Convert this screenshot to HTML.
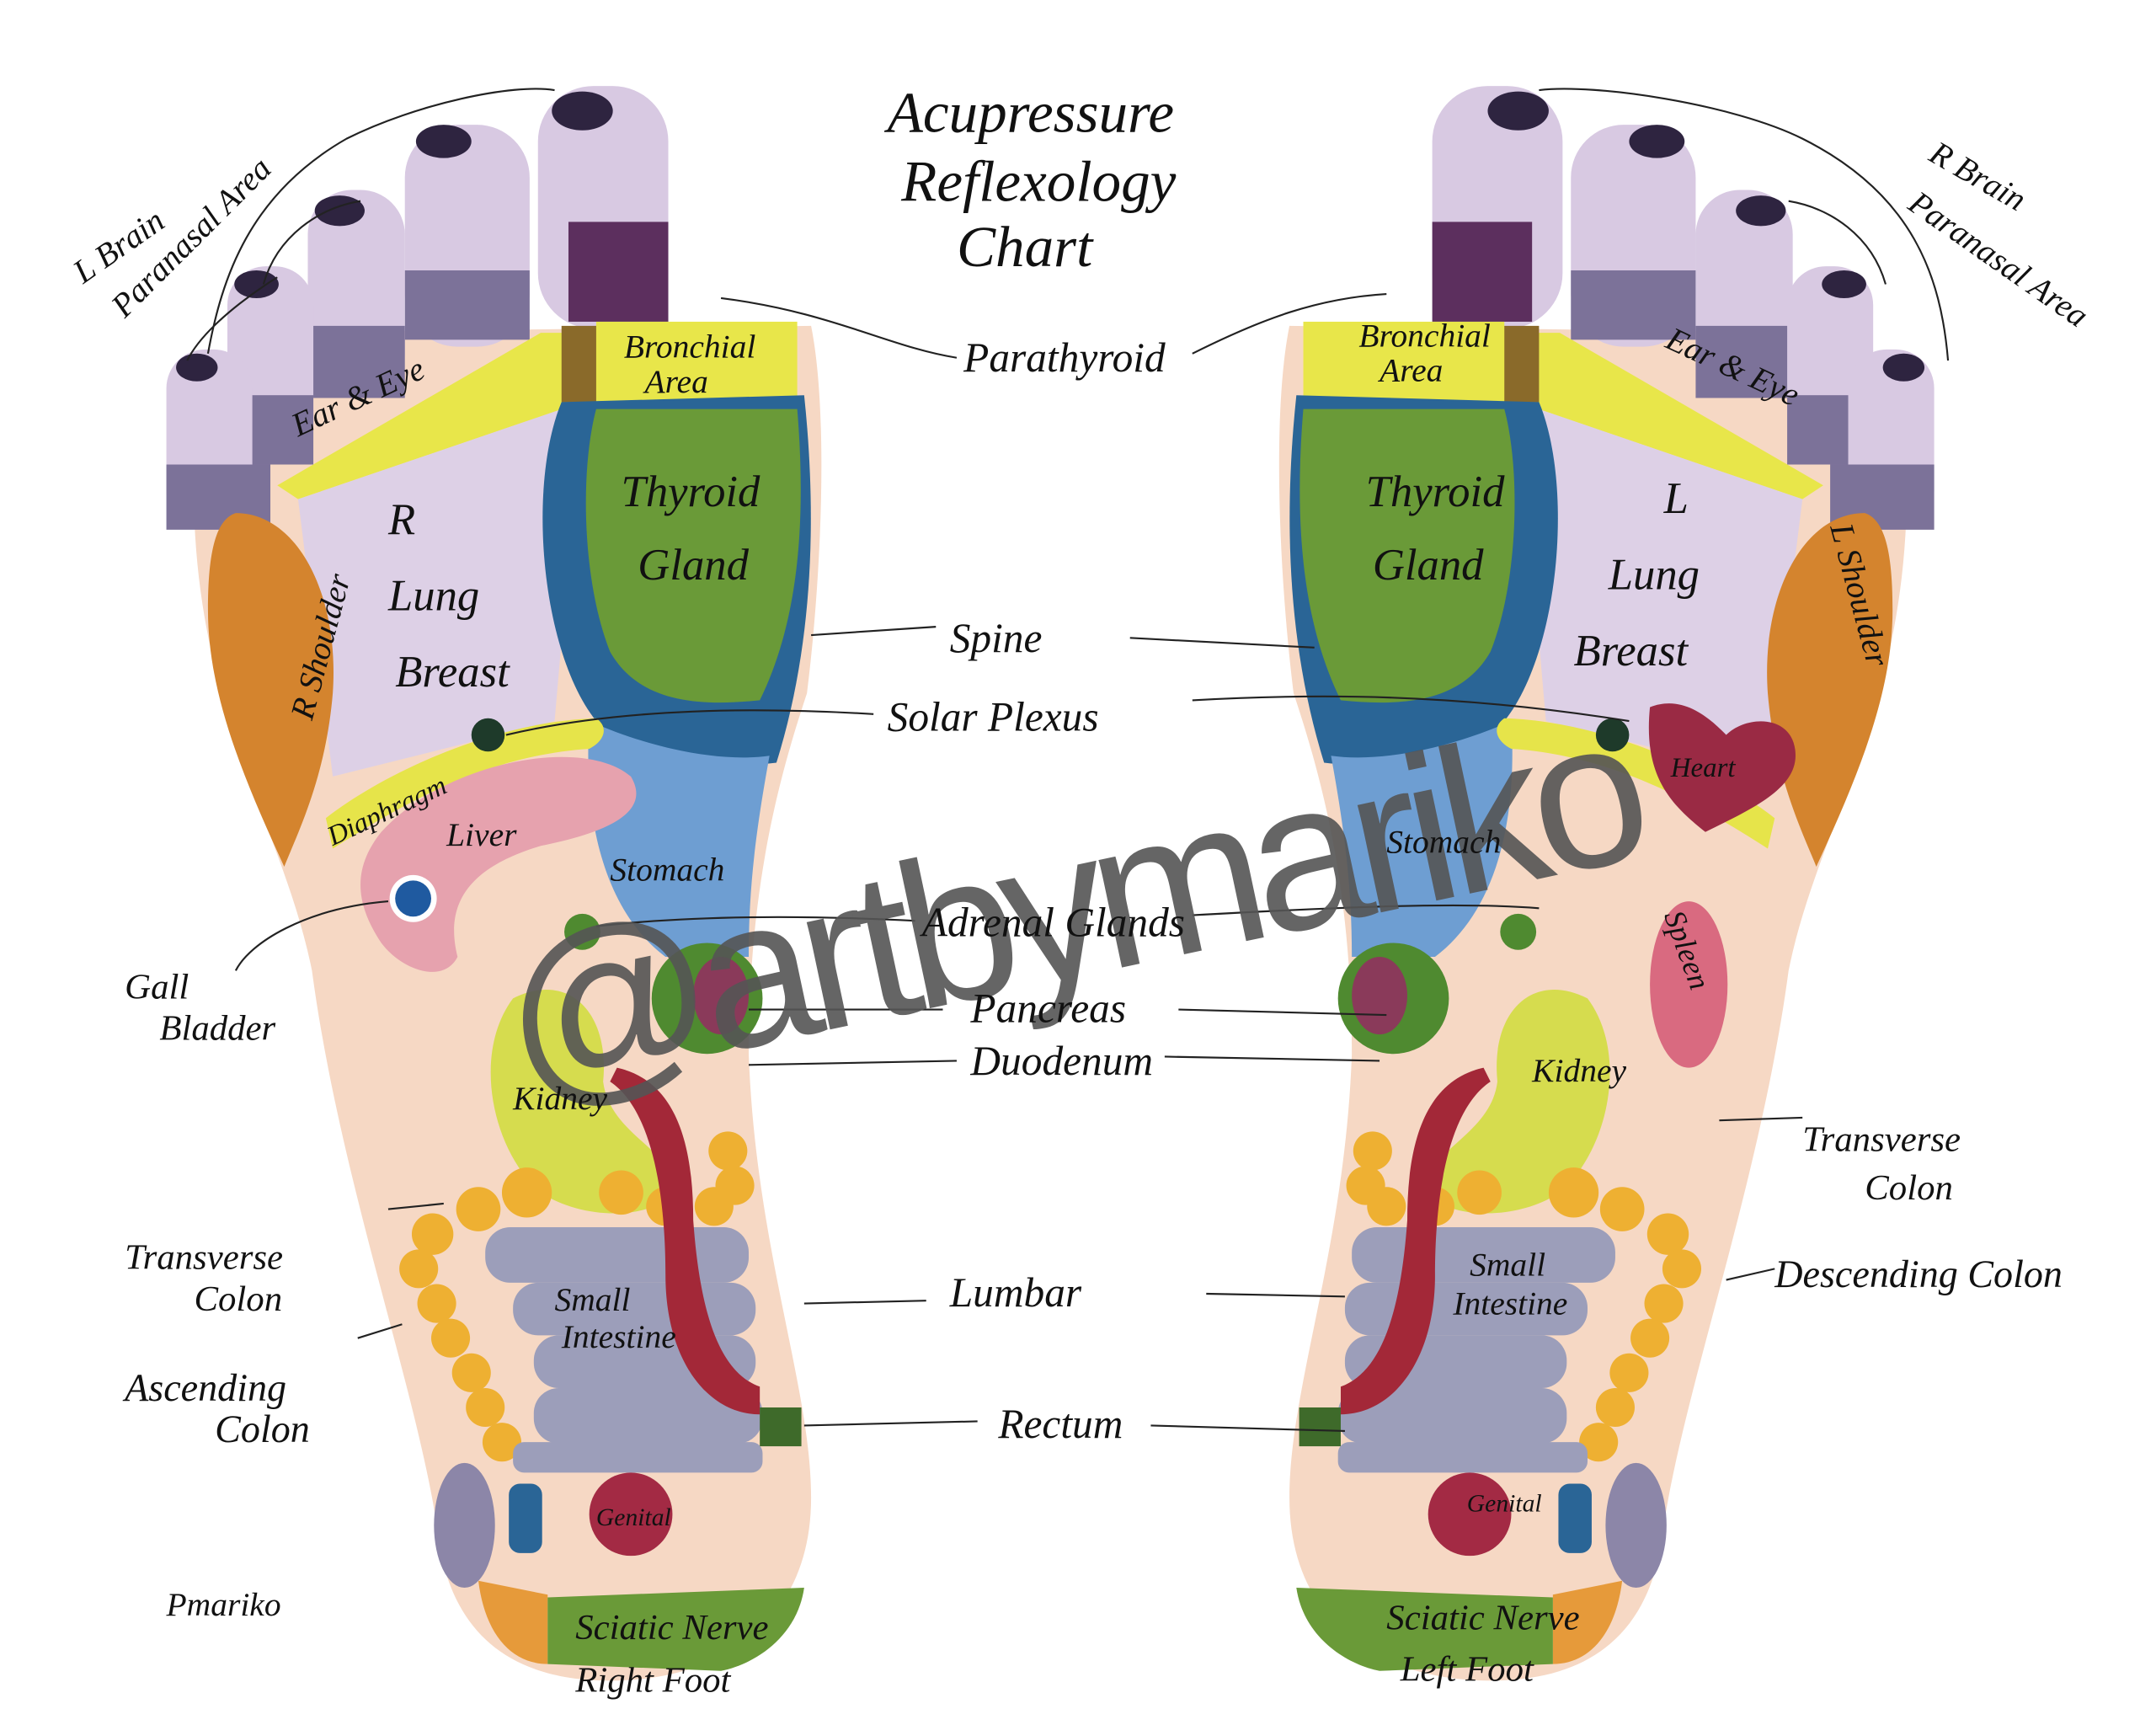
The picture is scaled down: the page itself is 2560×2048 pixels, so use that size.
<!DOCTYPE html>
<html><head><meta charset="utf-8"><style>
html,body{margin:0;padding:0;background:#fff}
svg{display:block}
text{font-family:"Liberation Serif",serif;font-style:italic;fill:#111}
</style></head><body>
<svg width="2560" height="2048" viewBox="0 0 1555 1244" preserveAspectRatio="none" xmlns="http://www.w3.org/2000/svg">
<rect width="1555" height="1244" fill="#fff"/>
<defs>
<g id="foot">
  <path d="M140,370 C140,300 160,250 200,240 L585,235 C598,300 592,420 582,500 C562,560 540,640 540,760 C545,900 585,1000 585,1080 C585,1170 520,1212 440,1212 C360,1212 322,1170 315,1100 C300,1000 245,850 225,700 C205,600 145,520 140,370 Z" fill="#f6d8c4"/>
  <!-- toes -->
  <rect x="388" y="62" width="94" height="175" rx="40" fill="#d8c9e2"/>
  <ellipse cx="420" cy="80" rx="22" ry="14" fill="#2e2440"/>
  <rect x="410" y="160" width="72" height="72" fill="#5c2f5e"/>
  <rect x="292" y="90" width="90" height="160" rx="38" fill="#d8c9e2"/>
  <ellipse cx="320" cy="102" rx="20" ry="12" fill="#2e2440"/>
  <rect x="292" y="195" width="90" height="50" fill="#7c7299"/>
  <rect x="222" y="137" width="70" height="150" rx="32" fill="#d8c9e2"/>
  <ellipse cx="245" cy="152" rx="18" ry="11" fill="#2e2440"/>
  <rect x="222" y="235" width="70" height="52" fill="#7c7299"/>
  <rect x="164" y="192" width="62" height="140" rx="28" fill="#d8c9e2"/>
  <ellipse cx="185" cy="205" rx="16" ry="10" fill="#2e2440"/>
  <rect x="164" y="285" width="62" height="50" fill="#7c7299"/>
  <rect x="120" y="252" width="62" height="130" rx="28" fill="#d8c9e2"/>
  <ellipse cx="142" cy="265" rx="15" ry="10" fill="#2e2440"/>
  <rect x="120" y="335" width="75" height="47" fill="#7c7299"/>
  <!-- ear & eye band -->
  <path d="M200,350 L390,240 L420,240 L420,290 L215,360 Z" fill="#e8e64a"/>
  <rect x="405" y="235" width="28" height="55" fill="#8a6a2a"/>
  <rect x="430" y="232" width="145" height="62" fill="#e8e64a"/>
  <!-- lung -->
  <path d="M215,360 L420,290 L400,520 L240,560 Z" fill="#ddd0e6"/>
  <!-- esophagus / thyroid -->
  <path d="M405,290 L580,285 C590,380 585,470 560,550 C520,555 460,550 430,520 C390,470 380,350 405,290 Z" fill="#2a6596"/>
  <path d="M430,295 L575,295 C582,380 575,450 548,505 C500,510 460,505 440,470 C420,420 418,340 430,295 Z" fill="#6a9a38"/>
  <!-- shoulder -->
  <path d="M170,370 C215,370 245,430 240,500 C235,560 215,600 205,625 C175,560 150,500 150,440 C150,400 155,375 170,370 Z" fill="#d4842e"/>
  <!-- stomach -->
  <path d="M425,520 C470,540 520,550 555,545 C545,600 540,640 540,690 L480,690 C440,660 420,600 425,520 Z" fill="#6e9ed2"/>
  <!-- diaphragm -->
  <path d="M235,590 C280,555 360,520 430,518 C440,525 435,535 425,540 C350,545 290,580 240,612 Z" fill="#e6e44a"/>
  <circle cx="352" cy="530" r="12" fill="#1e3a2a"/>
  <!-- adrenal, pancreas -->
  <circle cx="420" cy="672" r="13" fill="#4f8a30"/>
  <circle cx="510" cy="720" r="40" fill="#4f8a30"/>
  <ellipse cx="520" cy="718" rx="20" ry="28" fill="#8a3a5a"/>
  <!-- kidney -->
  <path d="M370,720 C410,700 440,730 435,780 C440,820 490,830 485,860 C470,880 420,880 390,860 C355,830 340,760 370,720 Z" fill="#d6dc4e"/>
  <!-- colon -->
  <g fill="#eeb032">
    <circle cx="525" cy="830" r="14"/><circle cx="530" cy="855" r="14"/><circle cx="515" cy="870" r="14"/>
    <circle cx="380" cy="860" r="18"/><circle cx="345" cy="872" r="16"/><circle cx="312" cy="890" r="15"/>
    <circle cx="302" cy="915" r="14"/><circle cx="315" cy="940" r="14"/><circle cx="325" cy="965" r="14"/>
    <circle cx="340" cy="990" r="14"/><circle cx="350" cy="1015" r="14"/><circle cx="362" cy="1040" r="14"/>
    <circle cx="448" cy="860" r="16"/><circle cx="480" cy="870" r="14"/>
  </g>
  <!-- small intestine -->
  <g fill="#9c9eba">
    <rect x="350" y="885" width="190" height="40" rx="18"/>
    <rect x="370" y="925" width="175" height="38" rx="18"/>
    <rect x="385" y="963" width="160" height="38" rx="18"/>
    <rect x="385" y="1001" width="165" height="40" rx="18"/>
    <rect x="370" y="1040" width="180" height="22" rx="8"/>
  </g>
  <!-- ureter & bladder -->
  <path d="M445,770 C490,780 500,830 500,880 C505,950 520,990 548,1000 L548,1020 C510,1020 480,980 480,920 C480,860 470,800 440,780 Z" fill="#a32838"/>
  <rect x="548" y="1015" width="30" height="28" fill="#3e6a2a"/>
  <!-- genital -->
  <circle cx="455" cy="1092" r="30" fill="#a32a44"/>
  <!-- hip knee -->
  <ellipse cx="335" cy="1100" rx="22" ry="45" fill="#8c86a8"/>
  <rect x="367" y="1070" width="24" height="50" rx="8" fill="#2a6596"/>
  <path d="M345,1140 L395,1150 L395,1200 C370,1200 350,1180 345,1140 Z" fill="#e69a3a"/>
  <!-- sciatic -->
  <path d="M395,1152 L580,1145 C575,1180 545,1200 520,1205 L395,1200 Z" fill="#6a9a38"/>
</g>
</defs>
<use href="#foot"/>
<use href="#foot" transform="translate(1515,0) scale(-1,1)"/>
<!-- right foot liver + gallbladder -->
<path d="M275,600 C320,550 420,530 455,560 C470,585 440,600 390,610 C340,625 320,650 330,690 C320,710 290,700 275,680 C255,650 255,625 275,600 Z" fill="#e6a2ae"/>
<circle cx="298" cy="648" r="17" fill="#fff"/><circle cx="298" cy="648" r="13" fill="#1f5aa0"/>
<!-- left foot extra organs -->
<path d="M1190,510 C1215,500 1235,520 1245,530 C1260,515 1295,515 1295,545 C1295,570 1260,585 1230,600 C1205,580 1185,560 1190,510 Z" fill="#9a2a44"/>
<ellipse cx="1218" cy="710" rx="28" ry="60" fill="#d96a80"/>
<!-- lines -->
<g stroke="#222" stroke-width="1.3" fill="none">
<path d="M520,215 C600,225 640,250 690,258"/><path d="M860,255 C910,230 950,215 1000,212"/>
<path d="M585,458 L675,452"/><path d="M815,460 L948,467"/>
<path d="M365,530 C450,510 550,510 630,515"/><path d="M860,505 C950,500 1050,500 1175,520"/>
<path d="M430,668 C500,660 580,660 660,664"/><path d="M860,660 C950,655 1050,650 1110,655"/>
<path d="M540,728 L680,728"/><path d="M850,728 L1000,732"/>
<path d="M540,768 L690,765"/><path d="M840,762 L995,765"/>
<path d="M580,940 L668,938"/><path d="M870,933 L970,935"/>
<path d="M580,1028 L705,1025"/><path d="M830,1028 L970,1032"/>
<path d="M280,650 C220,655 180,680 170,700"/>
<path d="M280,872 L320,868"/><path d="M258,965 L290,955"/>
<path d="M1240,808 L1300,806"/><path d="M1245,923 L1280,915"/>
<path d="M150,255 C160,200 180,140 250,100 C300,75 370,60 400,65"/>
<path d="M190,205 C200,170 230,150 260,145"/><path d="M135,260 C150,230 200,200 200,200"/>
<path d="M1405,260 C1400,200 1380,140 1300,100 C1250,75 1150,60 1110,65"/>
<path d="M1360,205 C1350,170 1320,150 1290,145"/>
</g>
<!-- watermark -->
<text x="375" y="790" transform="rotate(-12 375 790)" style="font-family:'Liberation Sans',sans-serif;font-style:normal;fill:#555;opacity:.9" font-size="150" textLength="840">@artbymariko</text>
<!-- labels -->
<g font-size="30">
<text x="640" y="95" font-size="42">Acupressure</text>
<text x="650" y="145" font-size="42">Reflexology</text>
<text x="690" y="192" font-size="42">Chart</text>
<text x="695" y="268">Parathyroid</text>
<text x="685" y="470">Spine</text>
<text x="640" y="527">Solar Plexus</text>
<text x="665" y="675">Adrenal Glands</text>
<text x="700" y="737">Pancreas</text>
<text x="700" y="775">Duodenum</text>
<text x="685" y="942">Lumbar</text>
<text x="720" y="1037">Rectum</text>
<text x="90" y="720" font-size="26">Gall</text><text x="115" y="750" font-size="26">Bladder</text>
<text x="90" y="915" font-size="26">Transverse</text><text x="140" y="945" font-size="26">Colon</text>
<text x="90" y="1010" font-size="28">Ascending</text><text x="155" y="1040" font-size="28">Colon</text>
<text x="1300" y="830" font-size="26">Transverse</text><text x="1345" y="865" font-size="26">Colon</text>
<text x="1280" y="928" font-size="28">Descending Colon</text>
<text x="60" y="205" font-size="24" transform="rotate(-35 60 205)">L Brain</text>
<text x="90" y="230" font-size="24" transform="rotate(-45 90 230)">Paranasal Area</text>
<text x="1390" y="115" font-size="24" transform="rotate(30 1390 115)">R Brain</text>
<text x="1375" y="150" font-size="24" transform="rotate(35 1375 150)">Paranasal Area</text>
<text x="120" y="1165" font-size="24">Pmariko</text>
</g>
<g font-size="24">
<text x="450" y="258">Bronchial</text><text x="465" y="283">Area</text>
<text x="448" y="365" font-size="32">Thyroid</text><text x="460" y="418" font-size="32">Gland</text>
<text x="280" y="385" font-size="32">R</text><text x="280" y="440" font-size="32">Lung</text><text x="285" y="495" font-size="32">Breast</text>
<text x="215" y="315" transform="rotate(-25 215 315)">Ear &amp; Eye</text>
<text x="322" y="610">Liver</text>
<text x="440" y="635">Stomach</text>
<text x="370" y="800">Kidney</text>
<text x="400" y="945">Small</text><text x="405" y="972">Intestine</text>
<text x="240" y="610" font-size="20" transform="rotate(-25 240 610)">Diaphragm</text>
<text x="225" y="520" transform="rotate(-75 225 520)">R Shoulder</text>
<text x="415" y="1182" font-size="26">Sciatic Nerve</text><text x="415" y="1220" font-size="26">Right Foot</text>
<text x="430" y="1100" font-size="18">Genital</text>
<text x="980" y="250">Bronchial</text><text x="995" y="275">Area</text>
<text x="985" y="365" font-size="32">Thyroid</text><text x="990" y="418" font-size="32">Gland</text>
<text x="1200" y="370" font-size="32">L</text><text x="1160" y="425" font-size="32">Lung</text><text x="1135" y="480" font-size="32">Breast</text>
<text x="1200" y="250" transform="rotate(25 1200 250)">Ear &amp; Eye</text>
<text x="1000" y="615">Stomach</text>
<text x="1105" y="780">Kidney</text>
<text x="1060" y="920">Small</text><text x="1048" y="948">Intestine</text>
<text x="1205" y="560" font-size="20">Heart</text>
<text x="1320" y="380" transform="rotate(75 1320 380)">L Shoulder</text>
<text x="1200" y="660" font-size="22" transform="rotate(70 1200 660)">Spleen</text>
<text x="1000" y="1175" font-size="26">Sciatic Nerve</text><text x="1010" y="1212" font-size="26">Left Foot</text>
<text x="1058" y="1090" font-size="18">Genital</text>
</g>
</svg>
</body></html>
